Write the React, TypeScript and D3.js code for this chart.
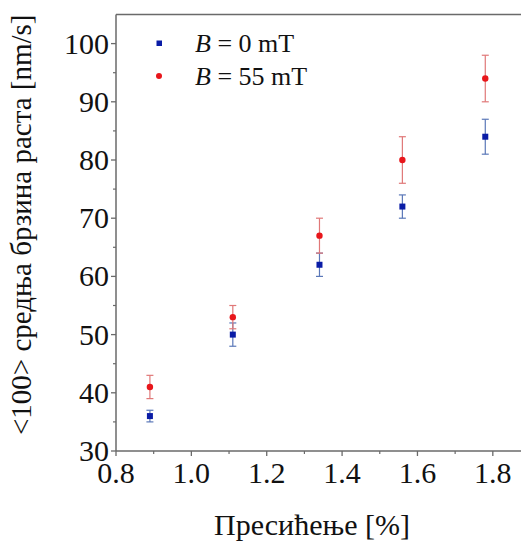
import React from "react";
import * as d3 from "d3";

const xValues = [0.89, 1.11, 1.34, 1.56, 1.78];
const blueValues = [36, 50, 62, 72, 84];
const blueErrLow = [35, 48, 60, 70, 81];
const blueErrHigh = [37, 52, 64, 74, 87];
const redValues = [41, 53, 67, 80, 94];
const redErrLow = [39, 51, 64, 76, 90];
const redErrHigh = [43, 55, 70, 84, 98];
const xTicks = [0.8, 1.0, 1.2, 1.4, 1.6, 1.8];
const xMinorTicks = [0.9, 1.1, 1.3, 1.5, 1.7, 1.9];
const yTicks = [30, 40, 50, 60, 70, 80, 90, 100];
const yMinorTicks = [35, 45, 55, 65, 75, 85, 95];
const legendLabels = ["0 mT", "55 mT"];

const W = 521;
const H = 542;
const left = 116;
const right = 530.5;
const top = 14.5;
const bottom = 451;

const FONT = '"Liberation Serif"';
const AXIS = "#6a6a6a";

export default function App() {
  const x = d3.scaleLinear().domain([0.8, 1.9]).range([left, right]);
  const y = d3.scaleLinear().domain([30, 105]).range([bottom, top]);

  const blueColor = "#0a1ca6";
  const redColor = "#e8161b";
  const blueErr = "#5b78b8";
  const redErr = "#e07878";
  const cap = 3.5;

  const series = [
    { vals: blueValues, lo: blueErrLow, hi: blueErrHigh, color: blueColor, err: blueErr, shape: "square" },
    { vals: redValues, lo: redErrLow, hi: redErrHigh, color: redColor, err: redErr, shape: "circle" },
  ];

  const ts = { fontFamily: FONT };

  return (
    <svg
      width={W}
      height={H}
      style={{ position: "absolute", left: 0, top: 0, background: "#fff" }}
    >
      <rect x={0} y={0} width={W} height={H} fill="#fff" />
      <line x1={left} y1={top} x2={right} y2={top} stroke={AXIS} strokeWidth={1.3} />
      <line x1={left} y1={top} x2={left} y2={bottom} stroke={AXIS} strokeWidth={1.5} />
      <line x1={left} y1={bottom} x2={right} y2={bottom} stroke={AXIS} strokeWidth={1.5} />

      {yTicks.map((t) => (
        <g key={"y" + t}>
          <line x1={left - 5} x2={left} y1={y(t)} y2={y(t)} stroke={AXIS} strokeWidth={1.3} />
          <text x={left - 7} y={y(t) + 10} textAnchor="end" fontSize={30} fill="#111" style={ts}>
            {t}
          </text>
        </g>
      ))}
      {yMinorTicks.map((t) => (
        <line key={"ym" + t} x1={left - 3} x2={left} y1={y(t)} y2={y(t)} stroke={AXIS} strokeWidth={1.2} />
      ))}

      {xTicks.map((t) => (
        <g key={"x" + t}>
          <line x1={x(t)} x2={x(t)} y1={bottom} y2={bottom + 5} stroke={AXIS} strokeWidth={1.3} />
          <text x={x(t)} y={bottom + 32} textAnchor="middle" fontSize={30} fill="#111" style={ts}>
            {d3.format(".1f")(t)}
          </text>
        </g>
      ))}
      {xMinorTicks.map((t) => (
        <line key={"xm" + t} x1={x(t)} x2={x(t)} y1={bottom} y2={bottom + 3} stroke={AXIS} strokeWidth={1.2} />
      ))}

      <text x={312} y={535} textAnchor="middle" fontSize={30} fill="#111" style={ts}>
        Пресићење [%]
      </text>
      <text
        transform={`translate(31, ${(top + bottom) / 2 - 8}) rotate(-90)`}
        textAnchor="middle"
        fontSize={29}
        fill="#111"
        style={ts}
      >
        {"<100> средња брзина раста [nm/s]"}
      </text>

      {series.map((s, si) => (
        <g key={"s" + si}>
          {xValues.map((xv, i) => (
            <g key={i}>
              <line x1={x(xv)} x2={x(xv)} y1={y(s.lo[i])} y2={y(s.hi[i])} stroke={s.err} strokeWidth={1.2} />
              <line x1={x(xv) - cap} x2={x(xv) + cap} y1={y(s.lo[i])} y2={y(s.lo[i])} stroke={s.err} strokeWidth={1.2} />
              <line x1={x(xv) - cap} x2={x(xv) + cap} y1={y(s.hi[i])} y2={y(s.hi[i])} stroke={s.err} strokeWidth={1.2} />
              {s.shape === "square" ? (
                <rect x={x(xv) - 3} y={y(s.vals[i]) - 3} width={6} height={6} fill={s.color} />
              ) : (
                <circle cx={x(xv)} cy={y(s.vals[i])} r={3.2} fill={s.color} />
              )}
            </g>
          ))}
        </g>
      ))}

      <rect x={156.5} y={40.5} width={5.5} height={5.5} fill={blueColor} />
      <circle cx={159} cy={76} r={3} fill={redColor} />
      {legendLabels.map((lab, i) => (
        <text key={lab} x={195} y={52 + i * 33} fontSize={26} fill="#111" style={ts}>
          <tspan fontStyle="italic">B</tspan>
          {" = " + lab}
        </text>
      ))}
    </svg>
  );
}
